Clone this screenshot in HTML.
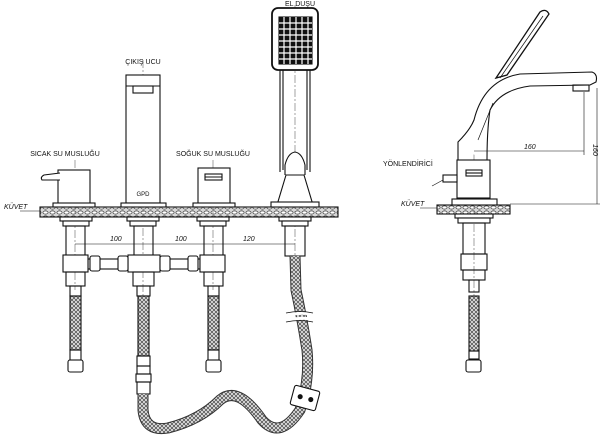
<!DOCTYPE html>
<html><head><meta charset="utf-8"><style>
html,body{margin:0;padding:0;background:#fff}
svg{display:block}
text{font-family:"Liberation Sans",sans-serif;fill:#111}
</style></head><body>
<svg width="600" height="440" viewBox="0 0 600 440" xmlns="http://www.w3.org/2000/svg">
<defs>
<pattern id="ct" width="7" height="5" patternUnits="userSpaceOnUse">
<rect width="7" height="5" fill="#d8d8d8"/>
<ellipse cx="3.5" cy="2.5" rx="2.6" ry="1.6" fill="#fff" stroke="#333" stroke-width="0.7"/>
</pattern>
<pattern id="br" width="4" height="4" patternUnits="userSpaceOnUse">
<rect width="4" height="4" fill="#e4e4e4"/>
<path d="M0 4L4 0M0 0L4 4" stroke="#444" stroke-width="0.7"/>
</pattern>
</defs>
<g fill="none" stroke="#111" stroke-width="1.1">
<rect x="40" y="207" width="298" height="10" fill="url(#ct)"/>
<rect x="437" y="205" width="73" height="9" fill="url(#ct)"/>

<g stroke="#666" stroke-width="0.6" stroke-dasharray="8 2 2 2">
<line x1="75" y1="160" x2="75" y2="290"/>
<line x1="143" y1="60" x2="143" y2="300"/>
<line x1="213" y1="160" x2="213" y2="290"/>
<line x1="295" y1="5" x2="295" y2="280"/>
<line x1="474" y1="140" x2="474" y2="300"/>
</g>

<rect x="58" y="170" width="32" height="35" fill="#fff"/>
<path d="M60 173 L44 175 Q40 177 42 180 L60 180" fill="#fff"/>
<rect x="53" y="203" width="42" height="4" fill="#fff"/>
<rect x="126" y="75" width="34" height="128" fill="#fff"/>
<line x1="126" y1="86" x2="160" y2="86"/>
<rect x="133" y="86" width="20" height="7"/>
<rect x="121" y="203" width="45" height="4" fill="#fff"/>
<text x="143" y="196" font-size="6" text-anchor="middle" stroke="none">GPD</text>
<rect x="198" y="168" width="32" height="37" fill="#fff"/>
<rect x="205" y="174" width="17" height="6"/>
<line x1="205" y1="177" x2="222" y2="177"/>
<rect x="193" y="203" width="42" height="4" fill="#fff"/>
<rect x="272" y="8" width="46" height="62" rx="6" fill="#fff" stroke-width="1.8"/>
<rect x="279" y="17" width="33" height="47" fill="#111"/>
<g stroke="#fff" stroke-width="1.2">
<line x1="279" y1="23" x2="312" y2="23"/><line x1="279" y1="29" x2="312" y2="29"/><line x1="279" y1="35" x2="312" y2="35"/><line x1="279" y1="41" x2="312" y2="41"/><line x1="279" y1="47" x2="312" y2="47"/><line x1="279" y1="53" x2="312" y2="53"/><line x1="279" y1="59" x2="312" y2="59"/>
<line x1="284" y1="17" x2="284" y2="64"/><line x1="290" y1="17" x2="290" y2="64"/><line x1="296" y1="17" x2="296" y2="64"/><line x1="302" y1="17" x2="302" y2="64"/><line x1="308" y1="17" x2="308" y2="64"/>
</g>
<path d="M280 70 L280 172 M310 70 L310 172 M283 70 L283 170 M307 70 L307 170"/>
<path d="M285 175 L285 165 Q288 153 295 152 Q302 153 305 165 L305 175" fill="#fff"/>
<path d="M286 175 L304 175 L313 205 L277 205 Z" fill="#fff"/>
<rect x="271" y="202" width="48" height="5" fill="#fff"/>

<rect x="60" y="217" width="32" height="4" fill="#fff"/><rect x="63" y="221" width="26" height="5" fill="#fff"/>
<rect x="127" y="217" width="32" height="4" fill="#fff"/><rect x="130" y="221" width="26" height="5" fill="#fff"/>
<rect x="197" y="217" width="32" height="4" fill="#fff"/><rect x="200" y="221" width="26" height="5" fill="#fff"/>
<rect x="279" y="217" width="32" height="4" fill="#fff"/><rect x="282" y="221" width="26" height="5" fill="#fff"/>
<rect x="66" y="226" width="19" height="30"/>
<rect x="134" y="226" width="19" height="30"/>
<rect x="204" y="226" width="19" height="30"/>
<rect x="285" y="226" width="20" height="30"/>
<rect x="88" y="259" width="112" height="10" fill="#fff"/>
<rect x="63" y="255" width="25" height="17" fill="#fff"/>
<rect x="128" y="255" width="32" height="17" fill="#fff"/>
<rect x="200" y="255" width="25" height="17" fill="#fff"/>
<rect x="90" y="256" width="10" height="15" rx="2" fill="#fff"/>
<rect x="118" y="256" width="10" height="15" rx="2" fill="#fff"/>
<rect x="160" y="256" width="10" height="15" rx="2" fill="#fff"/>
<rect x="188" y="256" width="10" height="15" rx="2" fill="#fff"/>
<rect x="66" y="272" width="19" height="14"/>
<rect x="133" y="272" width="21" height="14"/>
<rect x="204" y="272" width="19" height="14"/>
<rect x="70" y="286" width="11" height="10"/>
<rect x="70" y="296" width="11" height="54" fill="url(#br)"/>
<rect x="70" y="350" width="11" height="10"/>
<rect x="68" y="360" width="15" height="12" rx="2"/>
<rect x="208" y="286" width="11" height="10"/>
<rect x="208" y="296" width="11" height="54" fill="url(#br)"/>
<rect x="208" y="350" width="11" height="10"/>
<rect x="206" y="360" width="15" height="12" rx="2"/>
<rect x="137" y="286" width="13" height="10"/>
<rect x="138" y="296" width="11" height="60" fill="url(#br)"/>
<rect x="137" y="356" width="13" height="10"/>
<rect x="136" y="374" width="15" height="8"/>
<rect x="137" y="366" width="13" height="8"/>
<rect x="137" y="382" width="13" height="12"/>
<path d="M143 394 L143 410 Q145 432 168 428 Q200 420 220 400 Q238 385 262 420 Q280 440 300 410 Q310 380 307 350 Q302 318 296 290 L295 256" stroke="#333" stroke-width="11"/>
<path d="M143 394 L143 410 Q145 432 168 428 Q200 420 220 400 Q238 385 262 420 Q280 440 300 410 Q310 380 307 350 Q302 318 296 290 L295 256" stroke="url(#br)" stroke-width="9"/>
<path d="M288 315 Q300 312 312 314 M288 320 Q300 317 312 319" stroke="#fff" stroke-width="3"/>
<path d="M286 313 Q300 310 313 313 M286 322 Q300 319 313 322" stroke-width="0.8"/>
<g transform="rotate(15 305 398)"><rect x="292" y="388" width="26" height="20" rx="2" fill="#fff"/><circle cx="300" cy="398" r="2" fill="#111"/><circle cx="311" cy="398" r="2" fill="#111"/></g>

<line x1="75" y1="244" x2="295" y2="244" stroke-width="0.6"/>

<!-- right side view -->
<path d="M496 78 L540 12 Q546 8 549 14 L507 75 Z" fill="#fff" stroke-width="1.3"/>
<path d="M500 78 L543 16" stroke-width="0.7"/>
<path d="M458 148 L458 142 Q470 130 474 120 Q484 80 520 74 L592 72 Q598 74 596 82 L590 85 L530 86 Q500 90 490 110 Q487 130 487 160" fill="#fff"/>
<path d="M493 103 L478 140" stroke-width="0.7"/>
<rect x="573" y="85" width="16" height="6"/>
<rect x="457" y="160" width="33" height="38" fill="#fff"/>
<line x1="458" y1="148" x2="458" y2="160"/>
<rect x="466" y="170" width="16" height="6"/><line x1="466" y1="173" x2="482" y2="173"/>
<rect x="443" y="175" width="14" height="7" fill="#fff"/>
<rect x="452" y="199" width="45" height="6" fill="#fff"/>
<rect x="455" y="214" width="38" height="4" fill="#fff"/><rect x="458" y="218" width="32" height="5" fill="#fff"/>
<rect x="463" y="223" width="22" height="31"/>
<rect x="461" y="254" width="26" height="16"/>
<rect x="463" y="270" width="22" height="10"/>
<rect x="469" y="280" width="10" height="12"/>
<rect x="469" y="296" width="10" height="55" fill="url(#br)"/>
<rect x="469" y="351" width="10" height="8"/>
<rect x="466" y="360" width="15" height="12" rx="2"/>
<g stroke-width="0.6">
<line x1="474" y1="151" x2="584" y2="151"/>
<line x1="584" y1="92" x2="584" y2="155"/>
<line x1="597" y1="88" x2="597" y2="204"/>
<line x1="510" y1="204" x2="600" y2="204"/>
<line x1="432" y1="186" x2="443" y2="180"/>
<line x1="20" y1="211" x2="40" y2="211"/>
<line x1="420" y1="208" x2="437" y2="208"/>
</g>
</g>

<g font-size="7" stroke="none">
<text x="300" y="6" text-anchor="middle">EL DUŞU</text>
<text x="143" y="64" text-anchor="middle">ÇIKIŞ UCU</text>
<text x="65" y="156" text-anchor="middle">SICAK SU MUSLUĞU</text>
<text x="213" y="156" text-anchor="middle">SOĞUK SU MUSLUĞU</text>
<text x="383" y="166">YÖNLENDİRİCİ</text>
<text x="4" y="209" font-style="italic">KÜVET</text>
<text x="401" y="206" font-style="italic">KÜVET</text>
<text x="110" y="241" font-style="italic">100</text>
<text x="175" y="241" font-style="italic">100</text>
<text x="243" y="241" font-style="italic">120</text>
<text x="524" y="149" font-style="italic">160</text>
<text x="593" y="150" font-style="italic" transform="rotate(90 593 150)" text-anchor="middle">160</text>
</g>
</svg>
</body></html>
